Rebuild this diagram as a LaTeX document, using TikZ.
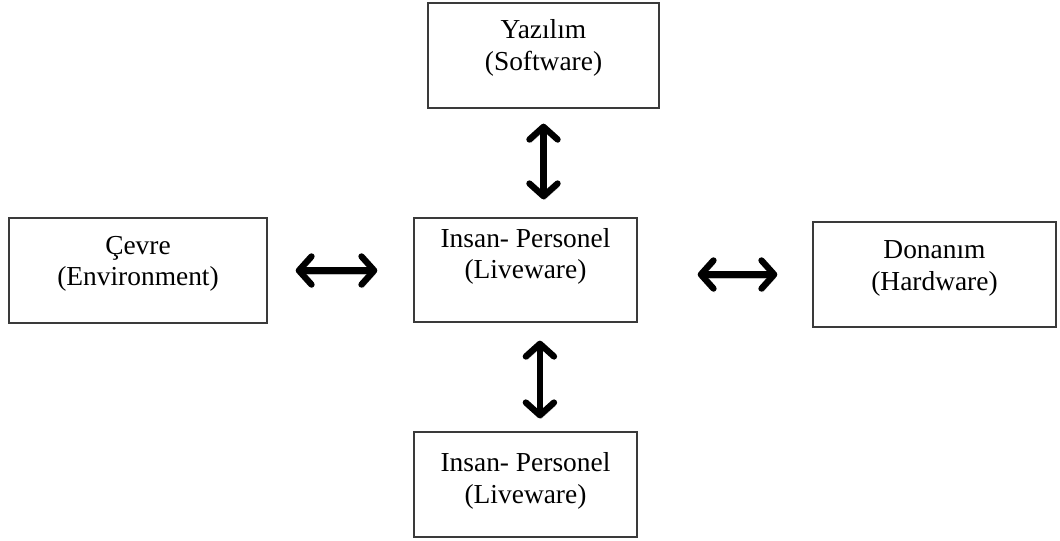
\documentclass[tikz,border=0pt]{standalone}
\usepackage{fontspec}
\setmainfont{Liberation Serif}
\usepackage{tikz}
\usetikzlibrary{arrows.meta,positioning,calc}
\definecolor{shelgray}{HTML}{3A3A3A}
\definecolor{shelshade}{HTML}{BEBEBE}
\tikzset{
  box/.style={draw=shelgray,line width=0.9pt,fill=white,inner sep=0pt,minimum height=2.625cm},
  txt/.style={anchor=north,align=center,inner sep=0pt,font=\fontsize{19.5}{22.5}\selectfont},
  ar/.style={{Straight Barb[round,length=9pt,width=20pt]}-{Straight Barb[round,length=9pt,width=20pt]},line width=4.5pt,line cap=round,black,
    preaction={draw=shelshade,transform canvas={xshift=0.8pt,yshift=-2.5pt}}},
}
\begin{document}
\begin{tikzpicture}[x=0.025cm,y=-0.025cm]
\useasboundingbox (0,0) rectangle (1060,540);
% the five blocks
\node[box,minimum width=5.775cm,label={[txt,yshift=-0.43cm]north:Yazılım\\(Software)}] (sw) at (543.5,55.5) {};
\node[box,minimum width=6.45cm,label={[txt,yshift=-0.46cm]north:Çevre\\(Environment)}] (env) at (138,270.5) {};
\node[box,minimum width=5.575cm,minimum height=2.6cm,label={[txt,yshift=-0.26cm]north:Insan- Personel\\(Liveware)}] (lw) at (525.5,270) {};
\node[box,minimum width=6.075cm,label={[txt,yshift=-0.48cm]north:Donanım\\(Hardware)}] (hw) at (934.5,274.5) {};
\node[box,minimum width=5.575cm,label={[txt,yshift=-0.52cm]north:Insan- Personel\\(Liveware)}] (lw2) at (525.5,484.5) {};
% double arrows
\draw[ar,shorten <=0.375cm,shorten >=0.45cm] (sw.south) -- (sw.south |- lw.north);
\draw[ar,shorten <=0.7cm,shorten >=0.9cm] (env.east) -- (env.east -| lw.west);
\draw[ar,shorten <=1.5cm,shorten >=0.875cm] (hw.west -| lw.east) -- (hw.west);
\draw[ar,shorten <=0.45cm,shorten >=0.325cm] ([xshift=0.36cm]lw.south) -- ([xshift=0.36cm]lw.south |- lw2.north);
\end{tikzpicture}
\end{document}
